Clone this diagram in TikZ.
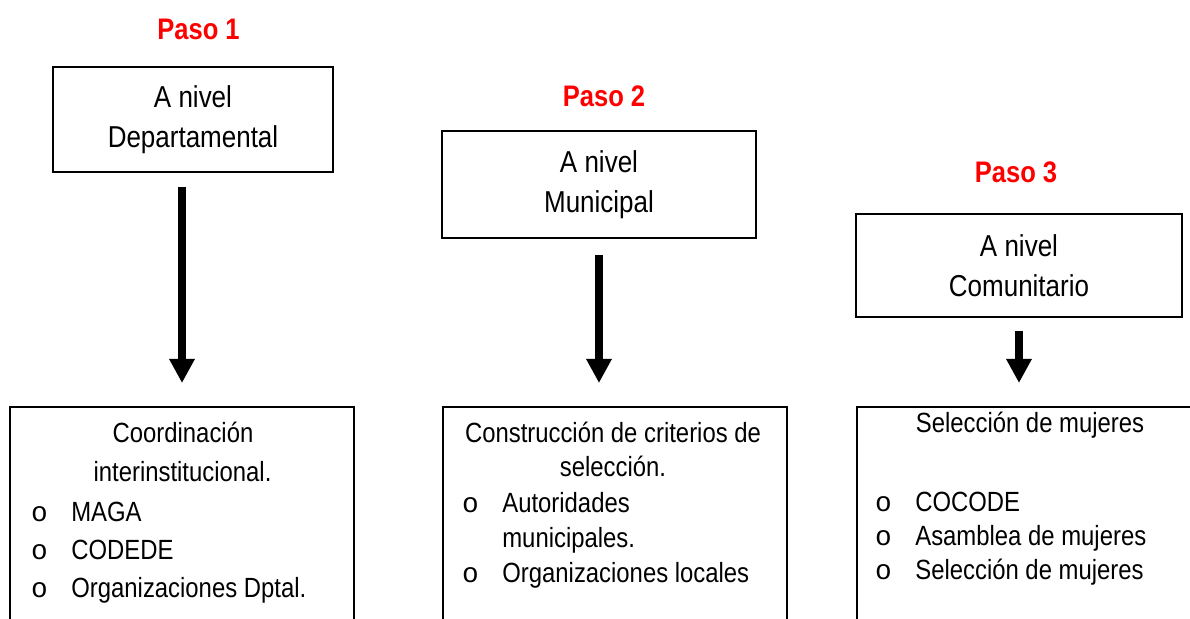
\documentclass[tikz,border=0pt]{standalone}
\usepackage{fontspec}
\setmainfont[FakeStretch=0.86]{Liberation Sans}
\newfontfamily\bulletfont{Liberation Mono}
\usepackage{tikz}
\usetikzlibrary{
    arrows.meta,
    positioning,
    calc
}

% bullet "o" followed by the item text
\newcommand{\itm}[1]{\makebox[0.4cm][c]{\bulletfont o}\hspace{0.44cm}#1}

\begin{document}
\begin{tikzpicture}[
    nivel/.style={draw, line width=1.1pt, align=center, font=\fontsize{17.2}{23}\selectfont},
    paso/.style={text=red, font=\fontsize{16.9}{19}\selectfont\bfseries, anchor=base, inner sep=0pt},
    accion/.style={draw, line width=1.1pt, anchor=north, minimum width=6.88cm, minimum height=5cm},
    linea/.style={anchor=base, inner sep=0pt, font=\fontsize{15.8}{18}\selectfont},
    item/.style={linea, anchor=base west},
    bigarrow/.style={line width=0.16cm, -{Triangle[width=0.48cm, length=0.48cm]}}
]
                \useasboundingbox (0,0) rectangle (23.8,12.38);
                \clip (0,0) rectangle (23.8,12.38);

                % Paso 1
                \node[paso] (paso1) at (3.97, 11.58) {Paso 1};
                \node[nivel, minimum width=5.6cm, minimum height=2.1cm] (dep) at (3.86, 9.99) {A nivel\\Departamental};

                % Paso 2
                \node[paso] (paso2) at (12.08, 10.24) {Paso 2};
                \node[nivel, minimum width=6.28cm, minimum height=2.14cm] (mun) at (11.98, 8.69) {A nivel\\Municipal};

                % Paso 3
                \node[paso] (paso3) at (20.32, 8.72) {Paso 3};
                \node[nivel, minimum width=6.52cm, minimum height=2.06cm] (com) at (20.38, 7.07) {A nivel\\Comunitario};

                % Lower boxes (cut off by the page)
                \node[accion] (coord) at (3.64, 4.26) {};
                \node[accion] (crit) at (12.30, 4.26) {};
                \node[accion] (sel) at (20.58, 4.26) {};

                % Arrows
                \draw[bigarrow, shorten <=0.28cm, shorten >=0.46cm] (coord.north |- dep.south) -- (coord.north);
                \draw[bigarrow, shorten <=0.32cm, shorten >=0.46cm] (mun.south) -- (mun.south |- crit.north);
                \draw[bigarrow, shorten <=0.26cm, shorten >=0.46cm] (com.south) -- (com.south |- sel.north);

                % Coordinacion
                \node[linea] (coord-t1) at (3.66, 3.52) {Coordinación};
                \node[linea] (coord-t2) at (3.65, 2.74) {interinstitucional.};
                \foreach \txt [count=\i] in {MAGA, CODEDE, Organizaciones Dptal.}
                    \node[item] (coord-\i) at (0.58, {1.94-0.76*(\i-1)}) {\itm{\txt}};

                % Criterios
                \node[linea] (crit-t1) at (12.26, 3.52) {Construcción de criterios de};
                \node[linea] (crit-t2) at (12.26, 2.84) {selección.};
                \node[item] (crit-1) at (9.20, 2.12) {\itm{Autoridades}};
                \node[item] (crit-1b) at (10.04, 1.42) {municipales.};
                \node[item] (crit-2) at (9.20, 0.72) {\itm{Organizaciones locales}};

                % Seleccion
                \node[linea] (sel-t) at (20.6, 3.72) {Selección de mujeres};
                \foreach \txt [count=\i] in {COCODE, Asamblea de mujeres, Selección de mujeres}
                    \node[item] (sel-\i) at (17.46, {2.14-0.68*(\i-1)}) {\itm{\txt}};
            \end{tikzpicture}
\end{document}
